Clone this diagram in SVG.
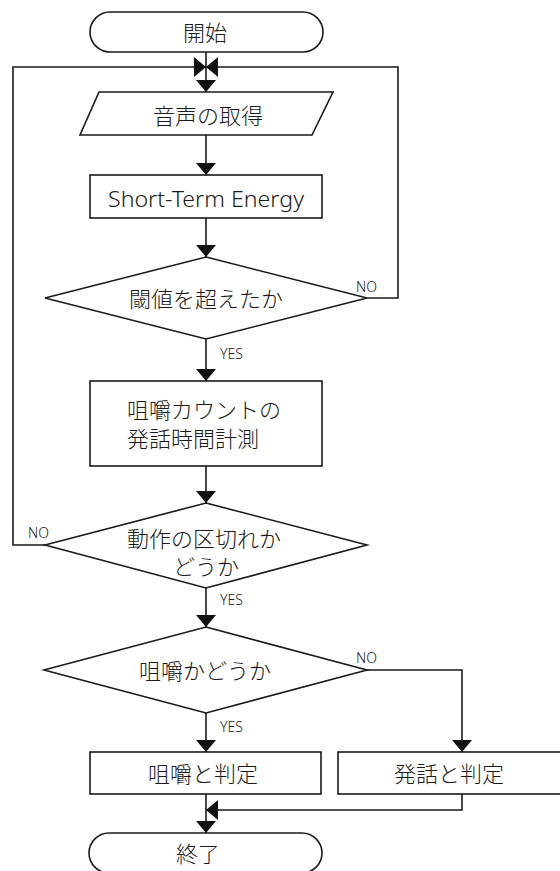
<svg xmlns="http://www.w3.org/2000/svg" width="560" height="871" viewBox="0 0 560 871">
<style>
.shape{fill:#fff;stroke:#1a1a1a;stroke-width:1.6}
.conn{fill:none;stroke:#1a1a1a;stroke-width:1.6}
.t{font-family:"Noto Sans","Noto Sans CJK JP",sans-serif;font-size:22px;fill:#1a1a1a;text-anchor:middle;dominant-baseline:central;font-weight:300}
.tl{text-anchor:start}
.lab{font-family:"Noto Sans","Noto Sans CJK JP",sans-serif;font-size:14px;fill:#1a1a1a;font-weight:300}
</style>
<defs>
<marker id="ah" viewBox="0 0 12 20" refX="12" refY="10" markerWidth="12" markerHeight="20" markerUnits="userSpaceOnUse" orient="auto">
<path d="M0,0 L12,10 L0,20 Z" fill="#111"/>
</marker>
</defs>
<rect width="560" height="871" fill="#fff"/>
<g id="connectors">
<path class="conn" d="M206,52 V92" marker-end="url(#ah)"/>
<path class="conn" d="M206,135 V175" marker-end="url(#ah)"/>
<path class="conn" d="M206,218 V257" marker-end="url(#ah)"/>
<path class="conn" d="M206,339 V381" marker-end="url(#ah)"/>
<path class="conn" d="M367,298 H398 V67 H206" marker-end="url(#ah)"/>
<path class="conn" d="M206,466 V503" marker-end="url(#ah)"/>
<path class="conn" d="M45,545 H13 V67 H206" marker-end="url(#ah)"/>
<path class="conn" d="M206,588 V627" marker-end="url(#ah)"/>
<path class="conn" d="M206,713 V752" marker-end="url(#ah)"/>
<path class="conn" d="M367,670 H462 V752" marker-end="url(#ah)"/>
<path class="conn" d="M462,794 V810 H206" marker-end="url(#ah)"/>
<path class="conn" d="M206,794 V833" marker-end="url(#ah)"/>
<text class="lab" x="356" y="292">NO</text>
<text class="lab" x="220" y="359">YES</text>
<text class="lab" x="28" y="538">NO</text>
<text class="lab" x="220" y="605">YES</text>
<text class="lab" x="356" y="663">NO</text>
<text class="lab" x="220" y="732">YES</text>
</g>
<g id="start">
<rect class="shape" x="90" y="12" width="233" height="40" rx="20" ry="20"/>
<text class="t" x="205" y="32">開始</text>
</g>
<g id="input">
<polygon class="shape" points="99,92 333,92 312,135 80,135"/>
<text class="t" x="208" y="115">音声の取得</text>
</g>
<g id="ste">
<rect class="shape" x="90" y="175" width="232" height="43"/>
<text class="t" x="206" y="207" style="dominant-baseline:auto;font-size:21.5px" textLength="196" lengthAdjust="spacingAndGlyphs">Short-Term Energy</text>
</g>
<g id="threshold">
<polygon class="shape" points="206,257 367,298 206,339 45,298"/>
<text class="t" x="206" y="298">閾値を超えたか</text>
</g>
<g id="measure">
<rect class="shape" x="90" y="381" width="232" height="85"/>
<text class="t tl" x="127" y="409">咀嚼カウントの</text>
<text class="t tl" x="127" y="438">発話時間計測</text>
</g>
<g id="segment">
<polygon class="shape" points="206,503 367,545 206,588 45,545"/>
<text class="t" x="204" y="538">動作の区切れか</text>
<text class="t" x="206" y="566">どうか</text>
</g>
<g id="chewing">
<polygon class="shape" points="206,627 367,670 206,713 44,670"/>
<text class="t" x="205" y="670">咀嚼かどうか</text>
</g>
<g id="judge-chew">
<rect class="shape" x="90" y="752" width="231" height="42"/>
<text class="t" x="203" y="773">咀嚼と判定</text>
</g>
<g id="judge-speech">
<rect class="shape" x="338" y="752" width="230" height="42"/>
<text class="t" x="449" y="773">発話と判定</text>
</g>
<g id="end">
<rect class="shape" x="89" y="833" width="233" height="40" rx="20" ry="20"/>
<text class="t" x="198" y="853">終了</text>
</g>
</svg>
